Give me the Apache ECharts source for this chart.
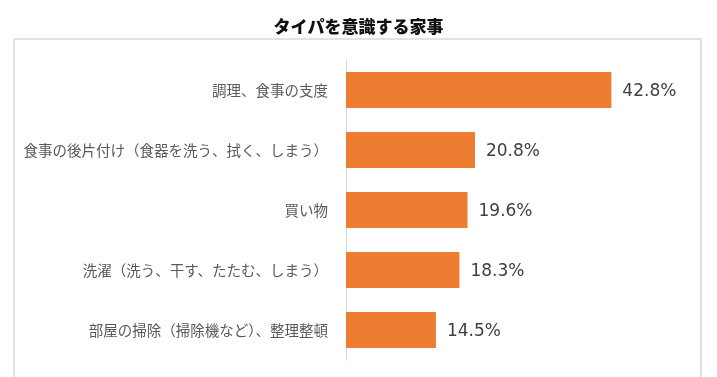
<!DOCTYPE html>
<html>
<head>
<meta charset="utf-8">
<script src="https://cdn.jsdelivr.net/npm/echarts@6/dist/echarts.min.js"></script>
<style>
html,body{margin:0;padding:0;background:#fff;}
#chart{width:717px;height:377px;}
</style>
</head>
<body>
<div id="chart"></div>
<script>
const titleText = 'タイパを意識する家事';
const categories = [
  '調理、食事の支度',
  '食事の後片付け（食器を洗う、拭く、しまう）',
  '買い物',
  '洗濯（洗う、干す、たたむ、しまう）',
  '部屋の掃除（掃除機など）、整理整頓'
];
const values = [42.8, 20.8, 19.6, 18.3, 14.5];

const chart = echarts.init(document.getElementById('chart'), null, {renderer: 'canvas'});
chart.setOption({
  animation: false,
  backgroundColor: '#fff',
  title: {
    text: titleText,
    left: 'center',
    top: 13,
    textStyle: {
      fontFamily: '"Noto Sans CJK JP", sans-serif',
      fontSize: 17,
      fontWeight: 900,
      color: '#111'
    }
  },
  graphic: [{
    type: 'rect',
    shape: {x: 14, y: 39, width: 687, height: 360},
    style: {fill: 'none', stroke: '#e2e2e2', lineWidth: 2},
    silent: true,
    z: -1
  }],
  grid: {left: 346, right: 61, top: 60, bottom: 17, containLabel: false},
  xAxis: {
    type: 'value',
    min: 0,
    max: 50,
    show: false
  },
  yAxis: {
    type: 'category',
    data: categories,
    inverse: true,
    axisLine: {show: true, lineStyle: {color: '#d9d9d9', width: 1}},
    axisTick: {show: false},
    axisLabel: {
      margin: 18,
      fontFamily: '"Noto Sans CJK JP", sans-serif',
      fontSize: 14.5,
      color: '#595959'
    }
  },
  series: [{
    type: 'bar',
    data: values,
    barCategoryGap: '40%',
    itemStyle: {color: '#ED7D31'},
    label: {
      show: true,
      position: 'right',
      distance: 11,
      offset: [0, 2],
      formatter: p => p.value.toFixed(1) + '%',
      fontFamily: '"DejaVu Sans", sans-serif',
      fontSize: 17,
      color: '#404040'
    }
  }]
});
</script>
</body>
</html>
